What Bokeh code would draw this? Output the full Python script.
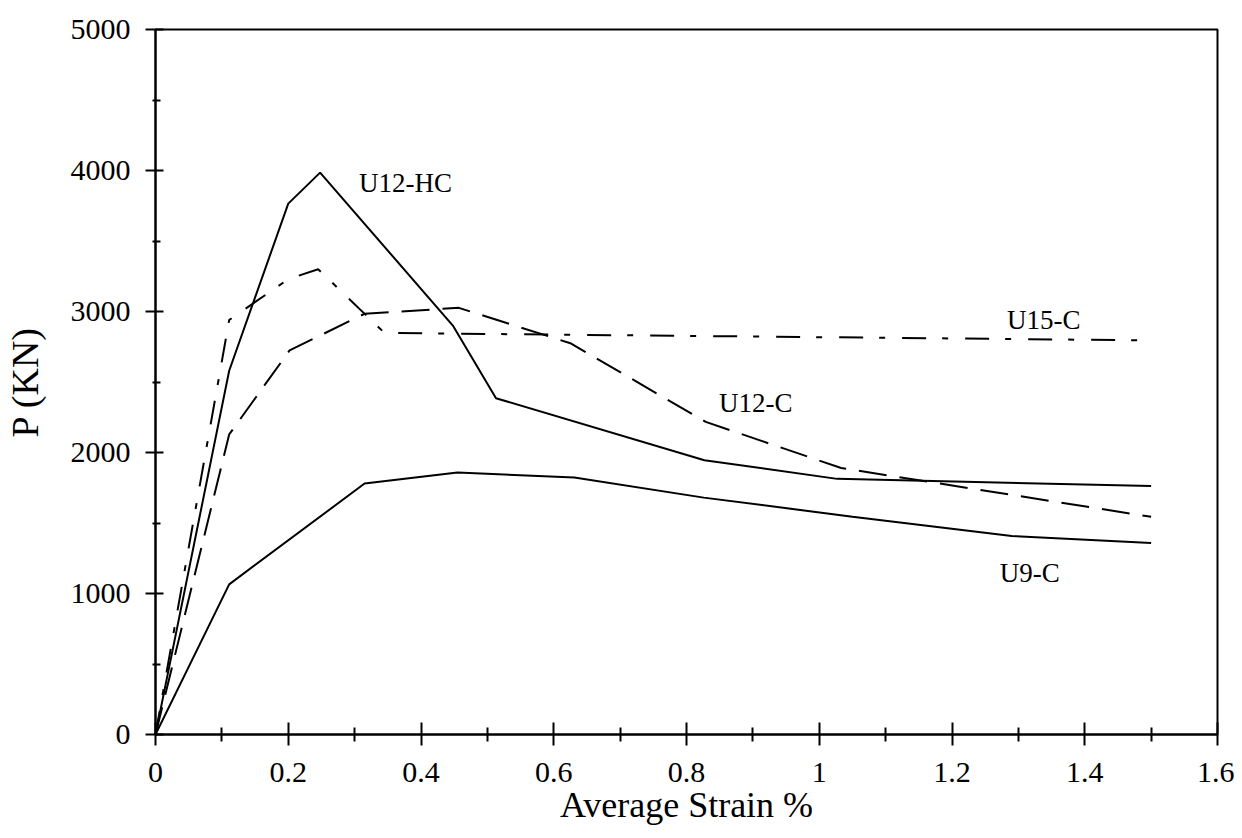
from bokeh.plotting import figure
from bokeh.models import Range1d, FixedTicker, CustomJSTickFormatter, Label
from bokeh.embed import file_html
from bokeh.resources import INLINE

# ---- data ----
strain_u12hc = [0, 0.111, 0.200, 0.248, 0.448, 0.513, 0.827, 1.027, 1.500]
p_u12hc = [0, 2580, 3765, 3985, 2900, 2385, 1945, 1813, 1763]

strain_u12c = [0, 0.111, 0.202, 0.315, 0.457, 0.625, 0.829, 1.033, 1.500]
p_u12c = [0, 2128, 2724, 2984, 3026, 2775, 2217, 1890, 1544]

strain_u15c = [0, 0.111, 0.200, 0.245, 0.345, 1.500]
p_u15c = [0, 2940, 3229, 3300, 2848, 2795]

strain_u9c = [0, 0.111, 0.315, 0.455, 0.631, 0.826, 1.050, 1.290, 1.500]
p_u9c = [0, 1065, 1780, 1858, 1822, 1680, 1545, 1408, 1358]

x_ticks = [0, 0.2, 0.4, 0.6, 0.8, 1.0, 1.2, 1.4, 1.6]
x_minor = [0.1, 0.3, 0.5, 0.7, 0.9, 1.1, 1.3, 1.5]
y_ticks = [0, 1000, 2000, 3000, 4000, 5000]
y_minor = [500, 1500, 2500, 3500, 4500]

series_labels = ["U12-HC", "U15-C", "U12-C", "U9-C"]
label_x = [0.3066, 1.283, 0.849, 1.272]
label_y = [3909, 2937, 2349, 1147]

FONT = "Liberation Serif"

p = figure(width=1234, height=830, x_range=Range1d(0, 1.6), y_range=Range1d(0, 5000),
           output_backend="svg", toolbar_location=None,
           min_border_left=155, min_border_right=17, min_border_top=29, min_border_bottom=96)
p.background_fill_color = "white"
p.border_fill_color = "white"
p.outline_line_color = "black"
p.outline_line_width = 2
p.xgrid.visible = False
p.ygrid.visible = False

p.xaxis.ticker = FixedTicker(ticks=x_ticks, minor_ticks=x_minor)
p.yaxis.ticker = FixedTicker(ticks=y_ticks, minor_ticks=y_minor)
p.xaxis.formatter = CustomJSTickFormatter(code="return String(Math.round(tick*10)/10);")
p.yaxis.formatter = CustomJSTickFormatter(code="return String(Math.round(tick));")

for ax in (p.xaxis, p.yaxis):
    ax.axis_line_color = "black"
    ax.axis_line_width = 2
    ax.major_tick_line_color = "black"
    ax.major_tick_line_width = 2
    ax.minor_tick_line_color = "black"
    ax.minor_tick_line_width = 2
    ax.major_label_text_font = FONT
    ax.major_label_text_font_size = "30px"
    ax.major_label_text_color = "black"
    ax.axis_label_text_font = FONT
    ax.axis_label_text_font_style = "normal"
    ax.axis_label_text_color = "black"

p.xaxis.major_label_standoff = 17
p.yaxis.major_label_standoff = 15
p.xaxis.axis_label_text_font_size = "36px"
p.yaxis.axis_label_text_font_size = "38px"

p.xaxis.major_tick_in = 12
p.xaxis.major_tick_out = 11
p.xaxis.minor_tick_in = 7
p.xaxis.minor_tick_out = 7
p.yaxis.major_tick_in = 8
p.yaxis.major_tick_out = 10
p.yaxis.minor_tick_in = 5
p.yaxis.minor_tick_out = 3

p.xaxis.axis_label = "Average Strain %"
p.yaxis.axis_label = "P (KN)"
p.xaxis.axis_label_standoff = 0
p.yaxis.axis_label_standoff = 22

p.line(strain_u12hc, p_u12hc, line_color="black", line_width=2)
p.line(strain_u9c, p_u9c, line_color="black", line_width=2)
p.line(strain_u12c, p_u12c, line_color="black", line_width=2, line_dash="28 13")
p.line(strain_u15c, p_u15c, line_color="black", line_width=2, line_dash="24 16 6 17")

for t, lx, ly in zip(series_labels, label_x, label_y):
    p.add_layout(Label(x=lx, y=ly, text=t, text_font=FONT, text_font_size="27px",
                       text_color="black", text_baseline="alphabetic", text_align="left"))

open("out.html", "w").write(file_html(p, INLINE))
